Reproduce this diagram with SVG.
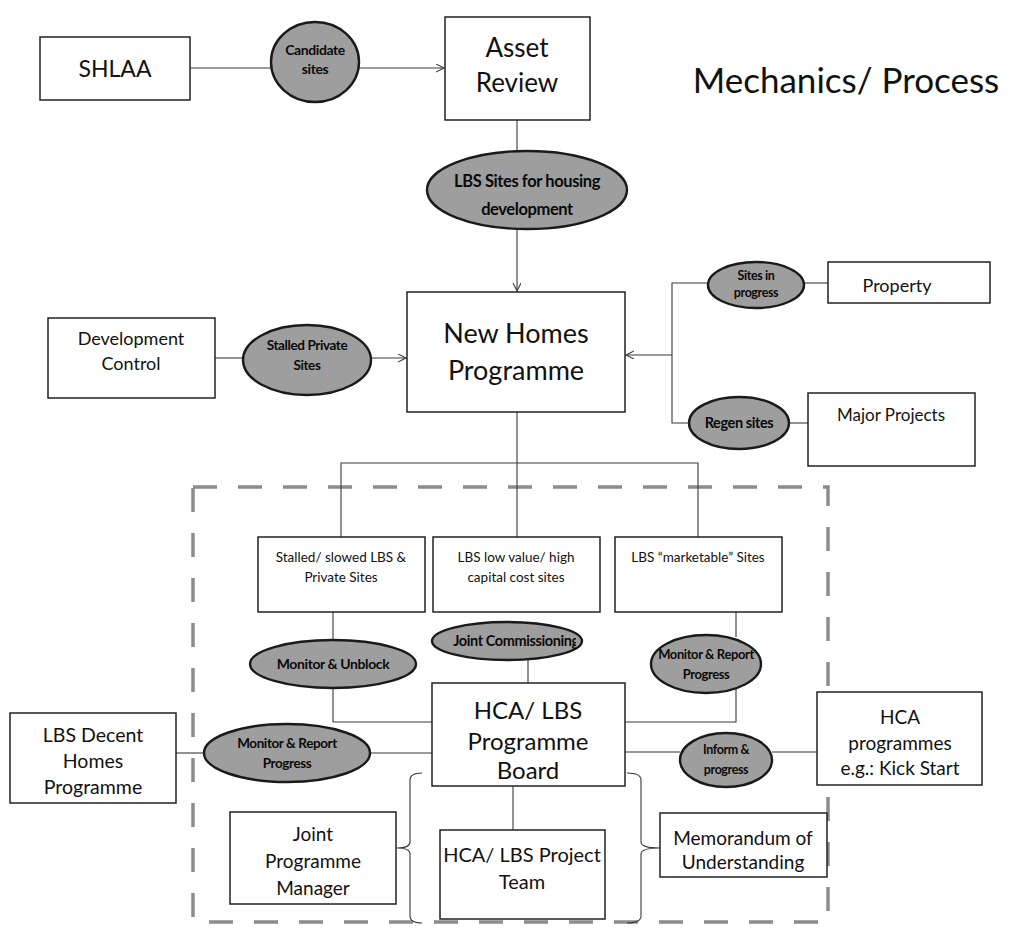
<svg xmlns="http://www.w3.org/2000/svg" width="1009" height="934" viewBox="0 0 1009 934">
<style>
.box{fill:#fff;stroke:#222;stroke-width:1.5}
.ell{fill:#9e9e9e;stroke:#1a1a1a;stroke-width:2.4}
.t{font-family:Lato,"Open Sans",sans-serif;fill:#111;text-anchor:middle}
.et{font-family:Lato,"Liberation Sans",sans-serif;font-weight:bold;fill:#0a0a0a;text-anchor:middle;letter-spacing:-0.4px}
.ln{fill:none;stroke:#3a3a3a;stroke-width:1.1}
.dash{fill:none;stroke:#8c8c8c;stroke-width:3.5;stroke-dasharray:24 21}
</style>
<defs>
<marker id="arr" markerWidth="10" markerHeight="10" refX="8" refY="4" orient="auto" markerUnits="userSpaceOnUse">
<path d="M0,0 L8,4 L0,8" fill="none" stroke="#3a3a3a" stroke-width="1.1"/>
</marker>
<clipPath id="jcclip"><rect x="420" y="615" width="156" height="50"/></clipPath>
</defs>
<rect width="1009" height="934" fill="#fff"/>

<g id="frame">
<path class="dash" d="M193,487 H828 V922 H193 Z"/>
</g>

<g id="connectors">
<path class="ln" d="M190,68 H271"/>
<path class="ln" d="M359,68 H444" marker-end="url(#arr)"/>
<path class="ln" d="M517,120 V151"/>
<path class="ln" d="M517,229 V291" marker-end="url(#arr)"/>
<path class="ln" d="M215,358 H243"/>
<path class="ln" d="M371,358 H406" marker-end="url(#arr)"/>
<path class="ln" d="M708,283 H672 V423 H689"/>
<path class="ln" d="M672,355 H626" marker-end="url(#arr)"/>
<path class="ln" d="M804,283 H828"/>
<path class="ln" d="M788,423 H808"/>
<path class="ln" d="M517,412 V537"/>
<path class="ln" d="M341,537 V463 H698 V537"/>
<path class="ln" d="M333,612 V640"/>
<path class="ln" d="M333,688 V722 H432"/>
<path class="ln" d="M736,612 V637"/>
<path class="ln" d="M736,688 V722 H625"/>
<path class="ln" d="M528,659 V683"/>
<path class="ln" d="M176,753 H204"/>
<path class="ln" d="M370,753 H432"/>
<path class="ln" d="M625,752 H680"/>
<path class="ln" d="M772,752 H817"/>
<path class="ln" d="M513,786 V830"/>
<path class="ln" d="M422,773 Q410,773 410,780 V842 Q410,848 397,848 Q410,848 410,854 V916 Q410,923 422,923"/>
<path class="ln" d="M627,773 Q641,773 641,780 V842 Q641,848 660,848 Q641,848 641,854 V916 Q641,923 627,923"/>
</g>

<g id="shlaa"><rect class="box" x="40" y="37" width="150" height="63"/>
<text class="t" x="115" y="77" font-size="23">SHLAA</text></g>

<g id="candidate-sites"><ellipse class="ell" cx="315" cy="62" rx="44" ry="40"/>
<text class="et" x="315" y="55" font-size="14">Candidate</text>
<text class="et" x="315" y="74" font-size="14">sites</text></g>

<g id="asset-review"><rect class="box" x="445" y="17" width="145" height="103"/>
<text class="t" x="517" y="57" font-size="26">Asset</text>
<text class="t" x="517" y="92" font-size="26">Review</text></g>

<g id="title"><text class="t" x="846" y="93" font-size="35">Mechanics/ Process</text></g>

<g id="lbs-sites"><ellipse class="ell" cx="527" cy="190" rx="100" ry="39"/>
<text class="et" x="527" y="187" font-size="16.5">LBS Sites for housing</text>
<text class="et" x="527" y="215" font-size="16.5">development</text></g>

<g id="new-homes"><rect class="box" x="407" y="292" width="218" height="120"/>
<text class="t" x="516" y="343" font-size="27">New Homes</text>
<text class="t" x="516" y="380" font-size="27">Programme</text></g>

<g id="dev-control"><rect class="box" x="48" y="318" width="167" height="80"/>
<text class="t" x="131" y="345" font-size="18">Development</text>
<text class="t" x="131" y="370" font-size="18">Control</text></g>

<g id="stalled-private"><ellipse class="ell" cx="307" cy="360" rx="64" ry="35"/>
<text class="et" x="307" y="350" font-size="13.5">Stalled Private</text>
<text class="et" x="307" y="370" font-size="13.5">Sites</text></g>

<g id="sites-in-progress"><ellipse class="ell" cx="756" cy="285" rx="48" ry="23"/>
<text class="et" x="756" y="280" font-size="12.5">Sites in</text>
<text class="et" x="756" y="297" font-size="12.5">progress</text></g>

<g id="property"><rect class="box" x="828" y="262" width="162" height="41"/>
<text class="t" x="897" y="292" font-size="18">Property</text></g>

<g id="regen-sites"><ellipse class="ell" cx="739" cy="423" rx="50" ry="26"/>
<text class="et" x="739" y="428" font-size="14.5">Regen sites</text></g>

<g id="major-projects"><rect class="box" x="808" y="393" width="167" height="73"/>
<text class="t" x="891" y="421" font-size="17">Major Projects</text></g>

<g id="stalled-slowed"><rect class="box" x="258" y="537" width="167" height="75"/>
<text class="t" x="341" y="562" font-size="13.5">Stalled/ slowed LBS &amp;</text>
<text class="t" x="341" y="582" font-size="13.5">Private Sites</text></g>

<g id="low-value"><rect class="box" x="433" y="537" width="167" height="75"/>
<text class="t" x="516" y="562" font-size="13.5">LBS low value/ high</text>
<text class="t" x="516" y="582" font-size="13.5">capital cost sites</text></g>

<g id="marketable"><rect class="box" x="615" y="537" width="167" height="75"/>
<text class="t" x="698" y="562" font-size="13.5">LBS “marketable” Sites</text></g>

<g id="monitor-unblock"><ellipse class="ell" cx="333" cy="664" rx="83" ry="24"/>
<text class="et" x="333" y="669" font-size="14">Monitor &amp; Unblock</text></g>

<g id="joint-commissioning"><ellipse class="ell" cx="507" cy="641" rx="75" ry="19"/>
<text class="et" x="516" y="646" font-size="14.5" clip-path="url(#jcclip)">Joint Commissioning</text></g>

<g id="monitor-report-right"><ellipse class="ell" cx="706" cy="664" rx="55" ry="29"/>
<text class="et" x="706" y="659" font-size="13">Monitor &amp; Report</text>
<text class="et" x="706" y="679" font-size="13">Progress</text></g>

<g id="programme-board"><rect class="box" x="432" y="683" width="193" height="103"/>
<text class="t" x="528" y="719" font-size="24">HCA/ LBS</text>
<text class="t" x="528" y="750" font-size="24">Programme</text>
<text class="t" x="528" y="779" font-size="24">Board</text></g>

<g id="decent-homes"><rect class="box" x="10" y="713" width="166" height="90"/>
<text class="t" x="93" y="742" font-size="19.5">LBS Decent</text>
<text class="t" x="93" y="768" font-size="19.5">Homes</text>
<text class="t" x="93" y="794" font-size="19.5">Programme</text></g>

<g id="monitor-report-left"><ellipse class="ell" cx="287" cy="753" rx="83" ry="29"/>
<text class="et" x="287" y="748" font-size="13.5">Monitor &amp; Report</text>
<text class="et" x="287" y="768" font-size="13.5">Progress</text></g>

<g id="inform-progress"><ellipse class="ell" cx="726" cy="760" rx="46" ry="27"/>
<text class="et" x="726" y="754" font-size="12.5">Inform &amp;</text>
<text class="et" x="726" y="774" font-size="12.5">progress</text></g>

<g id="hca-programmes"><rect class="box" x="817" y="692" width="165" height="93"/>
<text class="t" x="900" y="724" font-size="19">HCA</text>
<text class="t" x="900" y="750" font-size="19">programmes</text>
<text class="t" x="900" y="775" font-size="19">e.g.: Kick Start</text></g>

<g id="joint-programme-manager"><rect class="box" x="230" y="812" width="166" height="92"/>
<text class="t" x="313" y="841" font-size="19">Joint</text>
<text class="t" x="313" y="868" font-size="19">Programme</text>
<text class="t" x="313" y="895" font-size="19">Manager</text></g>

<g id="project-team"><rect class="box" x="440" y="830" width="165" height="89"/>
<text class="t" x="522" y="862" font-size="20">HCA/ LBS Project</text>
<text class="t" x="522" y="889" font-size="20">Team</text></g>

<g id="memorandum"><rect class="box" x="660" y="813" width="167" height="64"/>
<text class="t" x="743" y="845" font-size="19">Memorandum of</text>
<text class="t" x="743" y="869" font-size="19">Understanding</text></g>
</svg>
